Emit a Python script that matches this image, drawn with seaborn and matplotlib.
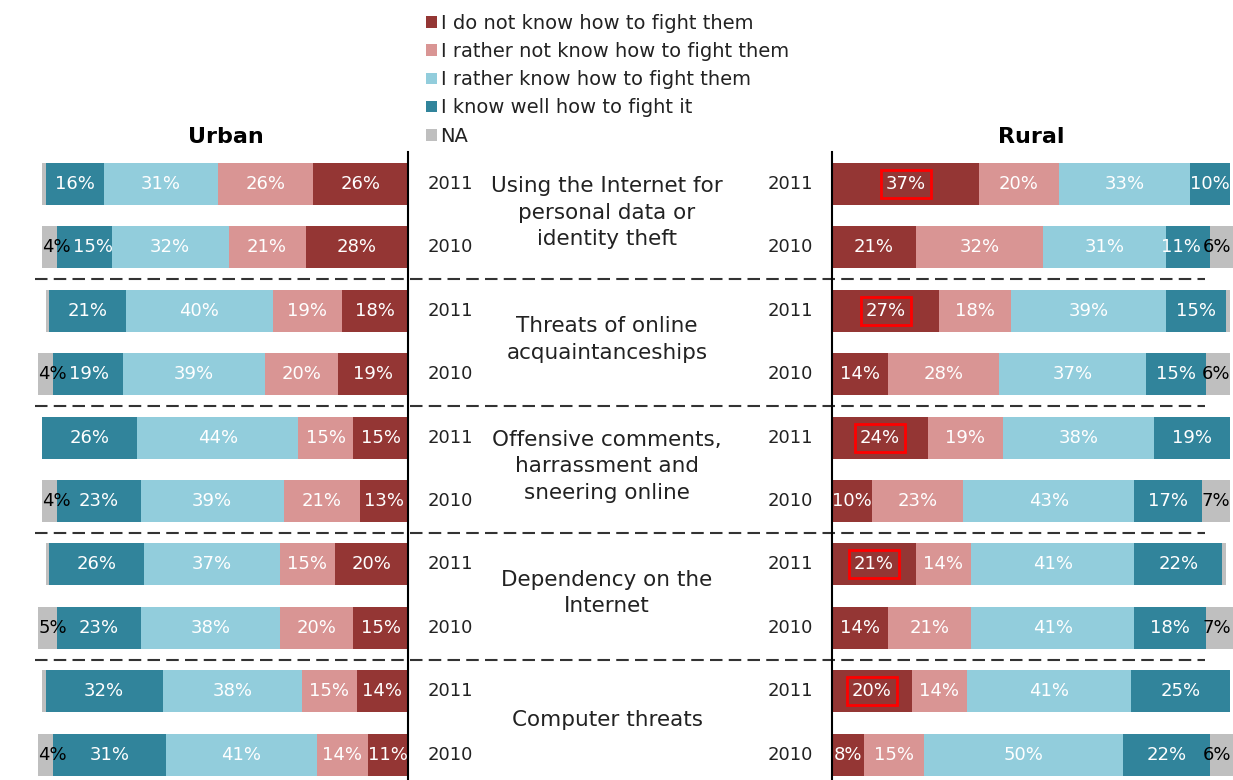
import matplotlib
matplotlib.use("Agg")
import numpy as np
import pandas as pd
import matplotlib.pyplot as plt
import seaborn as sns
from matplotlib.patches import Patch
from matplotlib import transforms

# Data
categories = ["Using the Internet for\npersonal data or\nidentity theft",
              "Threats of online\nacquaintanceships",
              "Offensive comments,\nharrassment and\nsneering online",
              "Dependency on the\nInternet",
              "Computer threats"]
years = ["2011", "2010"]
responses = ["I do not know how to fight them",
             "I rather not know how to fight them",
             "I rather know how to fight them",
             "I know well how to fight it",
             "NA"]

# one value per row: cat1-2011, cat1-2010, cat2-2011, ...
urban_not = [26, 28, 18, 19, 15, 13, 20, 15, 14, 11]
urban_rather_not = [26, 21, 19, 20, 15, 21, 15, 20, 15, 14]
urban_rather = [31, 32, 40, 39, 44, 39, 37, 38, 38, 41]
urban_well = [16, 15, 21, 19, 26, 23, 26, 23, 32, 31]
urban_na = [1, 4, 1, 4, 0, 4, 1, 5, 1, 4]

rural_not = [37, 21, 27, 14, 24, 10, 21, 14, 20, 8]
rural_rather_not = [20, 32, 18, 28, 19, 23, 14, 21, 14, 15]
rural_rather = [33, 31, 39, 37, 38, 43, 41, 41, 41, 50]
rural_well = [10, 11, 15, 15, 19, 17, 22, 18, 25, 22]
rural_na = [0, 6, 1, 6, 0, 7, 1, 7, 0, 6]

colors = ["#943634", "#D99594", "#92CDDC", "#31849B", "#BFBFBF"]

sns.set_theme(style="white")
plt.rcParams["font.family"] = ["DejaVu Sans"]

W, H = 1233, 780
fig = plt.figure(figsize=(W / 100, H / 100), dpi=100)
PCT_FS = 13


def px_axes(x0, x1, ytop, ybot):
    return fig.add_axes([x0 / W, 1 - ybot / H, (x1 - x0) / W, (ybot - ytop) / H])


bg = fig.add_axes([0, 0, 1, 1])
bg.set_xlim(0, W)
bg.set_ylim(H, 0)
bg.axis("off")

ax_u = px_axes(42, 408, 152.3, 786.3)
ax_r = px_axes(832, 1230, 152.3, 786.3)

row_ids = [f"{c}|{y}" for c in range(len(categories)) for y in years]


def label_width(v, ppu):
    # rough text width of "NN%" in data units
    return PCT_FS * 100 / 72 * (0.636 * len(str(int(v))) + 0.95) / ppu


def stacked(ax, series, side, ppu):
    vals = np.array(series, dtype=float).T  # rows x responses
    cum = np.cumsum(vals, axis=1)
    # draw back to front: the longest cumulative bar first
    for j in range(len(responses) - 1, -1, -1):
        df = pd.DataFrame({"row": row_ids, "cum": cum[:, j]})
        sns.barplot(data=df, y="row", x="cum", order=row_ids, orient="h",
                    color=colors[j], saturation=1, width=0.66, linewidth=0,
                    errorbar=None, ax=ax)
    for p in ax.patches:
        p.set_clip_on(False)
    # percent labels
    for i in range(len(row_ids)):
        v = vals[i]
        xs = list(cum[i] - v / 2)
        has = [x >= 2 for x in v]
        if has[4]:
            # NA label sits at the outer end of the bar, keep neighbours clear
            end = cum[i, 4] if side == "urban" else min(cum[i, 4], 100.3)
            xs[4] = end
            limit = end - label_width(v[4], ppu) - 0.5
            for j in (3, 2):
                half = label_width(v[j], ppu) / 2
                xs[j] = min(xs[j], limit - half)
                limit = xs[j] - half - 0.5
        for j in range(len(responses)):
            if not has[j]:
                continue
            kw = {}
            ha = "center"
            if j == 4:
                ha = "left" if side == "urban" else "right"
            if side == "rural" and j == 0 and row_ids[i].endswith("2011"):
                kw["bbox"] = dict(boxstyle="square,pad=0.28", fc="none",
                                  ec="#FF0000", lw=2)
            ax.text(xs[j], i, f"{int(v[j])}%", ha=ha, va="center",
                    fontsize=PCT_FS, color="white" if j < 4 else "black",
                    clip_on=False, **kw)
    ax.set_ylim(len(row_ids) - 0.5, -0.5)
    ax.set_xticks([])
    ax.set_yticks([])
    ax.set_xlabel("")
    ax.set_ylabel("")
    ax.set_facecolor("none")
    for s in ax.spines.values():
        s.set_visible(False)


stacked(ax_u, [urban_not, urban_rather_not, urban_rather, urban_well, urban_na],
        "urban", 366 / 100)
stacked(ax_r, [rural_not, rural_rather_not, rural_rather, rural_well, rural_na],
        "rural", 398 / 100)
ax_u.set_xlim(100, 0)
ax_r.set_xlim(0, 100)

# vertical axis lines
ax_u.spines["right"].set_visible(True)
ax_u.spines["right"].set_color("black")
ax_u.spines["right"].set_linewidth(1.5)
ax_r.spines["left"].set_visible(True)
ax_r.spines["left"].set_color("black")
ax_r.spines["left"].set_linewidth(1.5)

# shared row coordinates for the middle text and separators
trans = transforms.blended_transform_factory(bg.transData, ax_u.transData)
for g in range(1, len(categories)):
    y = 2 * g - 0.5
    bg.plot([35, 1205], [y, y], transform=trans, color="#333333", lw=1.5,
            linestyle=(0, (6, 3)))

for i, rid in enumerate(row_ids):
    yr = rid.split("|")[1]
    bg.text(450, i, yr, transform=trans, ha="center", va="center",
            fontsize=13, color="#222222")
    bg.text(790, i, yr, transform=trans, ha="center", va="center",
            fontsize=13, color="#222222")

for g, cat in enumerate(categories):
    bg.text(607, 2 * g + 0.45, cat, transform=trans, ha="center", va="center",
            fontsize=15.5, color="#222222", linespacing=1.4)

bg.text(226, 137, "Urban", ha="center", va="center", fontsize=16,
        fontweight="bold", color="black")
bg.text(1031, 137, "Rural", ha="center", va="center", fontsize=16,
        fontweight="bold", color="black")

handles = [Patch(facecolor=c, edgecolor="none") for c in colors]
leg = fig.legend(handles, responses, loc="upper left",
                 bbox_to_anchor=(426 / W, 1 - 14 / H), frameon=False,
                 fontsize=14, handlelength=0.55, handleheight=0.55,
                 handletextpad=0.2, labelspacing=0.47, borderpad=0,
                 borderaxespad=0)
for t in leg.get_texts():
    t.set_color("#222222")

fig.savefig("out.png", dpi=100)
